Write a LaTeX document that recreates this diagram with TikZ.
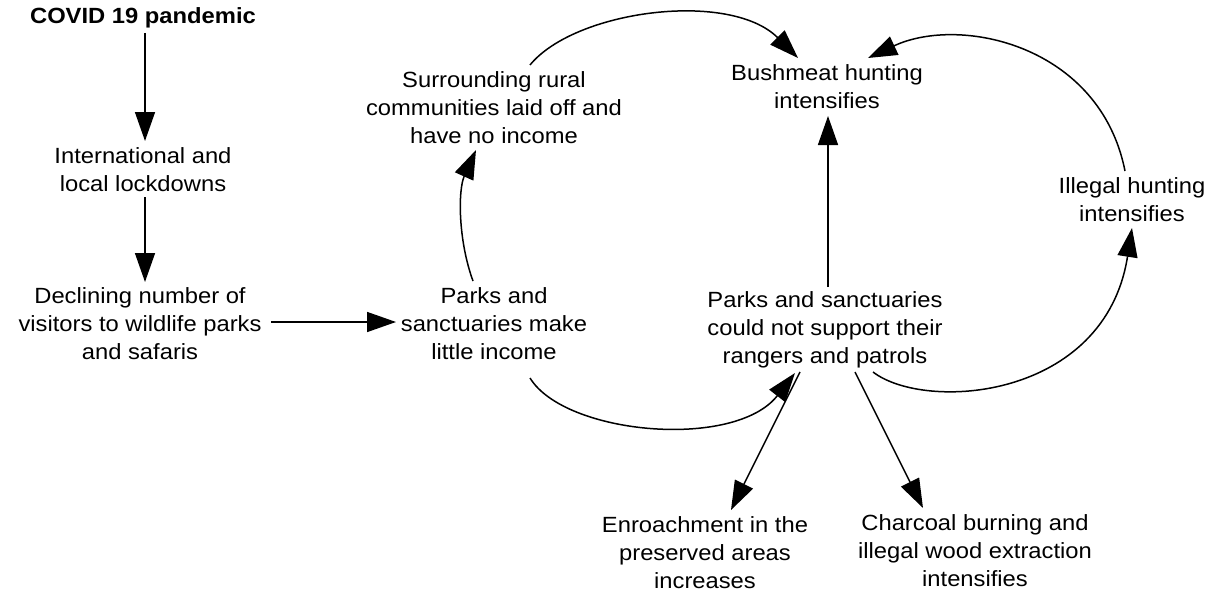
\documentclass[tikz,border=0pt]{standalone}
\usepackage{fontspec}
\setmainfont{Liberation Sans}[FakeStretch=1.08]
\usetikzlibrary{arrows.meta,calc}
\begin{document}
\begin{tikzpicture}[x=1pt,y=-1pt,
  txt/.style={align=center,inner sep=0pt,font=\fontsize{22}{28}\selectfont},
  conn/.style={line width=1.5pt,-{Triangle[length=29pt,width=20pt]}}]
\useasboundingbox (0,0) rectangle (1223,594);
\node[txt,font=\fontsize{22}{28}\selectfont\bfseries] (covid) at (143,18) {COVID 19 pandemic};
\node[txt] (intl) at (143,170) {International and\\local lockdowns};
\node[txt] (decl) at (140,324) {Declining number of\\visitors to wildlife parks\\and safaris};
\node[txt] (pm) at (494,324) {Parks and\\sanctuaries make\\little income};
\node[txt] (sur) at (494,108) {Surrounding rural\\communities laid off and\\have no income};
\node[txt] (bush) at (827,87) {Bushmeat hunting\\intensifies};
\node[txt] (pcn) at (825,330) {Parks and sanctuaries\\could not support their\\rangers and patrols};
\node[txt] (ill) at (1132,200) {Illegal hunting\\intensifies};
\node[txt] (enr) at (705,553) {Enroachment in the\\preserved areas\\increases};
\node[txt] (char) at (975,551) {Charcoal burning and\\illegal wood extraction\\intensifies};

\draw[conn] ($(covid)+(2,15)$) -- ($(intl)+(2,-29)$);
\draw[conn] ($(intl)+(2,27)$) -- ($(decl)+(5,-42)$);
\draw[conn] ($(decl)+(131,-2)$) -- ($(pm)+(-98,-2)$);
\draw[conn] ($(pm)+(-21,-43)$) .. controls (458,240) and (458,190) .. ($(sur)+(-18,42)$);
\draw[conn] ($(sur)+(36,-43)$) .. controls (575,10) and (730,-10) .. ($(bush)+(-29,-29)$);
\draw[conn] ($(pcn)+(3,-43)$) -- ($(bush)+(1,29)$);
\draw[conn] ($(pcn)+(48,42)$) .. controls (925,412) and (1105,400) .. ($(ill)+(0,28)$);
\draw[conn] ($(ill)+(-7,-29)$) .. controls (1100,45) and (960,15) .. ($(bush)+(41,-29)$);
\draw[conn] ($(pm)+(36,54)$) .. controls (565,435) and (735,450) .. ($(pcn)+(-30,43)$);
\draw[conn] ($(pcn)+(-25,42)$) -- ($(enr)+(26,-43)$);
\draw[conn] ($(pcn)+(30,42)$) -- ($(char)+(-52,-43)$);
\end{tikzpicture}
\end{document}
